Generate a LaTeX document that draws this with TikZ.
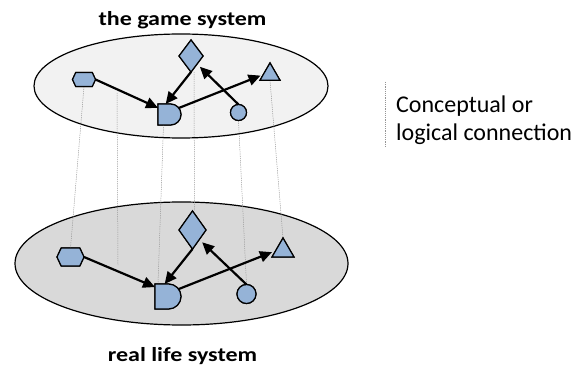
\documentclass[tikz,border=0pt]{standalone}
\usepackage{fontspec}
\setmainfont{Carlito}
\newfontfamily\titlefont{Carlito}[FakeStretch=1.2]
\usetikzlibrary{shapes.geometric,shapes.misc,shapes.symbols,arrows.meta,calc}
\definecolor{shp}{HTML}{95B3D7}
\definecolor{topfill}{HTML}{F2F2F2}
\definecolor{botfill}{HTML}{D9D9D9}
\definecolor{dotc}{HTML}{959595}
\begin{document}
\begin{tikzpicture}[x=1pt,y=-1pt,
  shapebase/.style={draw=black,fill=shp,line width=1.2pt,inner sep=0pt,outer sep=0pt},
  hexa/.style={shapebase,signal,signal to=west and east,signal pointer angle=130},
  dshape/.style={shapebase,rounded rectangle,rounded rectangle left arc=none},
  diam/.style={shapebase,diamond},
  tri/.style={shapebase,regular polygon,regular polygon sides=3},
  circ/.style={shapebase,circle},
  arr/.style={line width=2.2pt,-{Triangle[length=12pt,width=11pt]}},
  link/.style={draw=dotc,line width=0.5pt,dash pattern=on 1.2pt off 1pt},
  world/.style={draw=black,line width=1.2pt,ellipse,inner sep=0pt},
  ttl/.style={font=\titlefont\bfseries\fontsize{20}{24}\selectfont,anchor=base,inner sep=0pt},
  leg/.style={font=\fontsize{24}{28}\selectfont,anchor=base west,inner sep=0pt}
]
\useasboundingbox (0,0) rectangle (578,366);
% worlds
\node[world,fill=topfill,minimum width=294pt,minimum height=104pt] (topw) at (181,86) {};
\node[world,fill=botfill,minimum width=333pt,minimum height=123pt] (botw) at (181.5,263.5) {};
% titles
\node[ttl] (t-top) at (182.5,26) {the game system};
\node[ttl] (t-bot) at (182.5,361) {real life system};
% shapes (positions for anchors)
\node[hexa,minimum width=23pt,minimum height=14pt] (h1) at (84,79.5) {};
\node[dshape,minimum width=23pt,minimum height=21pt] (d1) at (169.5,114.5) {};
\node[diam,minimum width=24pt,minimum height=32pt] (m1) at (191,56) {};
\node[tri,minimum size=23.1pt] (t1) at (270,74.5) {};
\node[circ,minimum size=16pt] (c1) at (238.5,112.5) {};
\node[hexa,minimum width=27pt,minimum height=18pt] (h2) at (70.5,257) {};
\node[dshape,minimum width=26pt,minimum height=25pt] (d2) at (168,296.5) {};
\node[diam,minimum width=27pt,minimum height=38pt] (m2) at (192.5,230) {};
\node[tri,minimum size=25.4pt] (t2) at (283,250.7) {};
\node[circ,minimum size=19pt] (c2) at (246.5,294) {};
% links
\coordinate (l2a) at (117,93);
\coordinate (l2b) at (118,265);
\draw[link] (h1.south) -- (h2.north);
\draw[link] (l2a) -- (l2b);
\draw[link] ([xshift=-6pt]d1.south) -- ([xshift=3pt]d2.north west);
\draw[link] ([xshift=3pt]m1.south) -- ([xshift=2pt]m2.north);
\draw[link] (c1.south) -- (c2.north);
\draw[link] (t1.south) -- (t2.north);
% redraw shapes on top of links
\node[hexa,minimum width=23pt,minimum height=14pt] at (h1) {};
\node[dshape,minimum width=23pt,minimum height=21pt] at (d1) {};
\node[diam,minimum width=24pt,minimum height=32pt] at (m1) {};
\node[tri,minimum size=23.1pt] at (t1) {};
\node[circ,minimum size=16pt] at (c1) {};
\node[hexa,minimum width=27pt,minimum height=18pt] at (h2) {};
\node[dshape,minimum width=26pt,minimum height=25pt] at (d2) {};
\node[diam,minimum width=27pt,minimum height=38pt] at (m2) {};
\node[tri,minimum size=25.4pt] at (t2) {};
\node[circ,minimum size=19pt] at (c2) {};
% arrows
\draw[arr] (h1.east) -- (d1.150);
\draw[arr] (m1.south) -- (d1.110);
\draw[arr,shorten >=3pt] (d1.35) -- (t1.west);
\draw[arr,shorten >=4pt] (c1.north) -- (m1.south east);
\draw[arr] (h2.east) -- (d2.144);
\draw[arr] (m2.south) -- (d2.105);
\draw[arr,shorten >=4pt] (d2.35) -- (t2.west);
\draw[arr,shorten >=4pt] (c2.north) -- (m2.south east);
% legend
\coordinate (la) at (385,82);
\coordinate (lb) at (385,146);
\draw[link] (la) -- (lb);
\node[leg] (leg1) at (396,113) {Conceptual or};
\node[leg] (leg2) at (396,141) {logical connection};
\end{tikzpicture}
\end{document}
